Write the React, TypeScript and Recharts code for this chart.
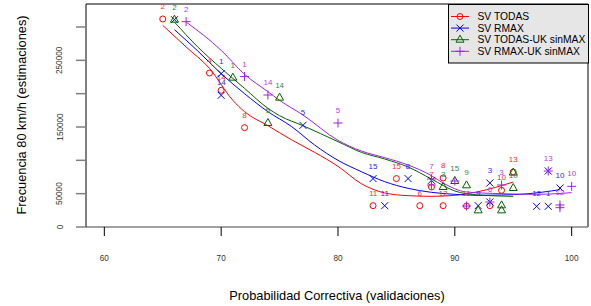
import React from "react";
import { Legend, ReferenceLine, Scatter, ScatterChart, XAxis, YAxis } from "recharts";

type Pt = [number, number, string];

const FONT = "'Liberation Sans', Arial, sans-serif";

const xTicks = [60, 70, 80, 90, 100];
const yTicks = [0, 50000, 100000, 150000, 200000, 250000, 300000];
const yTickLabels = [0, 50000, 150000, 250000];
const xDomain = [58.43, 101.4];
const yDomain = [0, 334500];

const seriesNames = ["SV TODAS", "SV RMAX", "SV TODAS-UK sinMAX", "SV RMAX-UK sinMAX"];
const seriesColors = ["#ff0000", "#0000ff", "#006400", "#a020f0"];
const labelColors = ["#ff2a2a", "#2a2aff", "#2f8a4a", "#b040f0"];
const seriesMarks = ["circle", "cross", "triangle", "plus"];

// observed points: [probabilidad, frecuencia, etiqueta] ("" where the label sits under another one)
const todasPoints: Pt[] = [
  [65, 312000, "2"],
  [69, 231000, "4"],
  [70, 205000, "14"],
  [72, 149000, "8"],
  [83, 32000, "11"],
  [85, 72600, "15"],
  [87, 32000, "6"],
  [88, 60000, "7"],
  [89, 73500, "8"],
  [89, 32000, "12"],
  [91, 31500, "11"],
  [93, 32000, ""],
  [94, 55000, "10"],
  [95, 82500, "13"],
];

const rmaxPoints: Pt[] = [
  [66, 311000, ""],
  [70, 230000, "1"],
  [70, 197500, "14"],
  [77, 152500, "5"],
  [83, 72600, "15"],
  [84, 32000, "11"],
  [86, 72600, "8"],
  [88, 70000, ""],
  [92, 32000, "9"],
  [93, 66000, "3"],
  [93, 37500, ""],
  [97, 31000, "12"],
  [98, 31000, "1"],
  [98, 84000, ""],
  [99, 58500, "10"],
];

const todasUkPoints: Pt[] = [
  [66, 311000, "2"],
  [71, 224000, "1"],
  [74, 156000, "5"],
  [75, 194000, "14"],
  [89, 60000, "3"],
  [90, 69000, "15"],
  [91, 62500, "9"],
  [92, 25000, ""],
  [94, 32500, ""],
  [94, 25000, ""],
  [95, 81600, ""],
  [95, 58500, "10"],
];

const rmaxUkPoints: Pt[] = [
  [67, 308000, "2"],
  [72, 225600, "1"],
  [74, 198000, "14"],
  [80, 156000, "5"],
  [88, 72000, "7"],
  [88, 63000, ""],
  [90, 69000, ""],
  [91, 31500, ""],
  [93, 37500, "6"],
  [94, 63000, "3"],
  [98, 84000, "13"],
  [99, 33000, "12"],
  [99, 29000, ""],
  [100, 61000, "10"],
];

// smoothed curves
const todasFit: [number, number][] = [
  [65, 302500], [67, 270000], [69, 238000], [71, 190000], [72, 173000], [74, 152000],
  [76, 131000], [78, 112000], [80, 91000], [82, 65000], [84, 51000], [86, 47000],
  [88, 46000], [90, 47500], [92, 53000], [95, 67500],
];

const rmaxFit: [number, number][] = [
  [66, 296000], [68, 264000], [70, 230000], [72, 200000], [74, 173000], [76, 151000],
  [78, 123000], [80, 100000], [82, 83000], [84, 68000], [86, 58000], [88, 52000],
  [90, 49000], [92, 47500], [94, 48000], [96, 49500], [99, 56000],
];

const todasUkFit: [number, number][] = [
  [66, 307500], [68, 270000], [70, 238000], [72, 208000], [74, 178000], [75, 167000],
  [77, 152000], [80, 128000], [82, 112000], [84, 102000], [86, 90000], [88, 72000],
  [90, 54000], [92, 48000], [95, 46000],
];

const rmaxUkFit: [number, number][] = [
  [67, 307500], [70, 265000], [72, 229000], [74, 203000], [75, 190000], [77, 168000],
  [80, 130000], [82, 114000], [84, 104000], [86, 93000], [88, 77000], [89, 66000],
  [91, 52500], [94, 50000], [97, 49000], [100, 51500],
];

const pointSets = [todasPoints, rmaxPoints, todasUkPoints, rmaxUkPoints];
const fitSets = [todasFit, rmaxFit, todasUkFit, rmaxUkFit];

function Mark({ kind, cx, cy, color }: { kind: string; cx: number; cy: number; color: string }) {
  if (kind === "circle") return <circle cx={cx} cy={cy} r={3} fill="none" stroke={color} strokeWidth={1} />;
  if (kind === "cross")
    return (
      <g stroke={color} strokeWidth={1}>
        <line x1={cx - 3.5} y1={cy - 3.5} x2={cx + 3.5} y2={cy + 3.5} />
        <line x1={cx - 3.5} y1={cy + 3.5} x2={cx + 3.5} y2={cy - 3.5} />
      </g>
    );
  if (kind === "triangle")
    return (
      <polygon
        points={`${cx},${cy - 4.5} ${cx - 4},${cy + 2.5} ${cx + 4},${cy + 2.5}`}
        fill="none"
        stroke={color}
        strokeWidth={1}
      />
    );
  return (
    <g stroke={color} strokeWidth={1}>
      <line x1={cx - 4.5} y1={cy} x2={cx + 4.5} y2={cy} />
      <line x1={cx} y1={cy - 4.5} x2={cx} y2={cy + 4.5} />
    </g>
  );
}

const makeShape = (i: number) => (props: any) => {
  const { cx, cy, payload } = props;
  return (
    <g>
      <Mark kind={seriesMarks[i]} cx={cx} cy={cy} color={seriesColors[i]} />
      {payload.label ? (
        <text
          x={cx}
          y={cy - 12.5}
          textAnchor="middle"
          dominantBaseline="central"
          fontSize={8}
          fontFamily={FONT}
          fill={labelColors[i]}
        >
          {payload.label}
        </text>
      ) : null}
    </g>
  );
};

const YTick = (p: any) => {
  const v = p.payload.value;
  if (!yTickLabels.includes(v)) return <g />;
  return (
    <text
      x={60}
      y={p.y}
      transform={`rotate(-90 60 ${p.y})`}
      textAnchor="middle"
      dominantBaseline="central"
      fontSize={8.2}
      fontFamily={FONT}
      fill="#333"
    >
      {v}
    </text>
  );
};

const XTick = (p: any) => (
  <text x={p.x} y={258} textAnchor="middle" dominantBaseline="central" fontSize={8.2} fontFamily={FONT} fill="#333">
    {p.payload.value}
  </text>
);

const LegendBox = () => (
  <svg width={142} height={60} style={{ display: "block" }}>
    <rect x={0.5} y={0.5} width={140} height={58.5} fill="#e6e6e6" stroke="#000" />
    {seriesNames.map((name, i) => {
      const y = 12.5 + i * 11.6;
      return (
        <g key={name}>
          <line x1={3} y1={y} x2={21} y2={y} stroke={seriesColors[i]} strokeWidth={1} />
          <Mark kind={seriesMarks[i]} cx={12} cy={y} color={seriesColors[i]} />
          <text x={29.5} y={y} dominantBaseline="central" fontSize={10.3} fontFamily={FONT} fill="#000">
            {name}
          </text>
        </g>
      );
    })}
  </svg>
);

export default function App() {
  return (
    <div style={{ position: "absolute", left: 0, top: 0, width: 591, height: 306, background: "#fff" }}>
      <ScatterChart width={591} height={306} margin={{ top: 4, right: 3, bottom: 0, left: 0 }} style={{ fontFamily: FONT }}>
        <XAxis
          type="number"
          dataKey="x"
          domain={xDomain}
          ticks={xTicks}
          allowDataOverflow
          height={79}
          tickSize={9}
          axisLine={{ stroke: "#808080", strokeWidth: 1.5 }}
          tickLine={{ stroke: "#000" }}
          tick={XTick}
          label={{
            content: () => (
              <text x={337} y={295} textAnchor="middle" dominantBaseline="central" fontSize={12.8} fontFamily={FONT} fill="#000">
                Probabilidad Correctiva (validaciones)
              </text>
            ),
          }}
        />
        <YAxis
          type="number"
          dataKey="y"
          domain={yDomain}
          ticks={yTicks}
          allowDataOverflow
          width={86}
          tickSize={10}
          axisLine={{ stroke: "#000" }}
          tickLine={{ stroke: "#808080", strokeWidth: 1.5 }}
          tick={YTick}
          label={{
            content: () => (
              <text
                x={21}
                y={115}
                transform="rotate(-90 21 115)"
                textAnchor="middle"
                dominantBaseline="central"
                fontSize={12.8}
                fontFamily={FONT}
                fill="#000"
              >
                Frecuencia 80 km/h (estimaciones)
              </text>
            ),
          }}
        />
        <ReferenceLine y={yDomain[1]} stroke="#000" />
        <ReferenceLine x={xDomain[1]} stroke="#000" />
        {fitSets.map((fit, i) => (
          <Scatter
            key={`fit-${i}`}
            data={fit.map(([x, y]) => ({ x, y }))}
            line={{ stroke: seriesColors[i], strokeWidth: 1 }}
            lineJointType="monotoneX"
            shape={() => <g />}
            isAnimationActive={false}
            legendType="none"
          />
        ))}
        {pointSets.map((pts, i) => (
          <Scatter
            key={`pts-${i}`}
            name={seriesNames[i]}
            data={pts.map(([x, y, label]) => ({ x, y, label }))}
            shape={makeShape(i)}
            isAnimationActive={false}
          />
        ))}
        <Legend
          layout="vertical"
          align="center"
          verticalAlign="middle"
          content={LegendBox}
          wrapperStyle={{ position: "absolute", left: 448, top: 4, width: 142, height: 60 }}
        />
      </ScatterChart>
    </div>
  );
}
